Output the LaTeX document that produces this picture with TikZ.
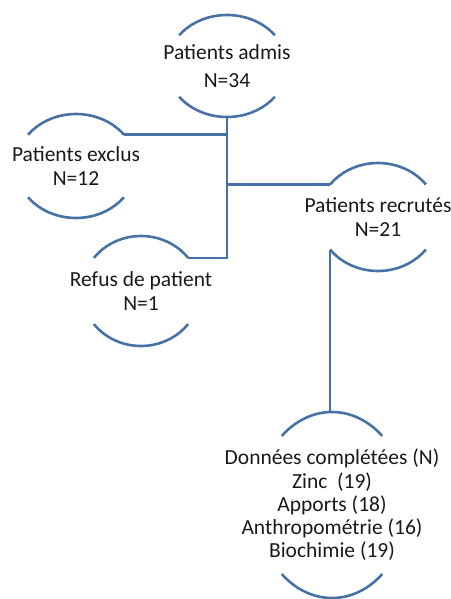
\documentclass[tikz,border=0pt]{standalone}
\usepackage{fontspec}
\setmainfont{Carlito}
\definecolor{arcblue}{RGB}{70,114,166}

% two arcs of an ellipse round a text node, with named ends
\newcommand{\capends}[4]{%
  \coordinate (#1-tr) at ([shift={(#4:#2 and #3)}]#1.center);
  \coordinate (#1-tl) at ([shift={(180-#4:#2 and #3)}]#1.center);
  \coordinate (#1-bl) at ([shift={(180+#4:#2 and #3)}]#1.center);
  \coordinate (#1-br) at ([shift={(-#4:#2 and #3)}]#1.center);
  \coordinate (#1-top) at ([yshift=#3]#1.center);
  \coordinate (#1-bot) at ([yshift=-#3]#1.center);
  \draw[arcline] (#1-tr) arc[start angle=#4, end angle=180-#4, x radius=#2, y radius=#3];
  \draw[arcline] (#1-bl) arc[start angle=180+#4, end angle=360-#4, x radius=#2, y radius=#3];
}

\begin{document}
\begin{tikzpicture}[x=1pt,y=-1pt,
    arcline/.style={draw=arcblue, line width=2.6pt},
    txt/.style={align=center, inner sep=0pt, text=black!90, font=\fontsize{21.5}{24.5}\selectfont}]

\useasboundingbox (0,0) rectangle (450,599);

\node[txt] (admis) at (227,66) {Patients admis\\[3pt]N=34};
\node[txt] (exclus) at (76,166) {Patients exclus\\N=12};
\node[txt] (refus) at (141,291) {Refus de patient\\N=1};
\node[txt] (recrutes) at (378,217) {Patients recrutés\\N=21};
\node[txt, font=\fontsize{21.5}{23.2}\selectfont] (donnees) at (332,505)
  {Données complétées (N)\\Zinc~ (19)\\Apports (18)\\Anthropométrie (16)\\Biochimie (19)};

\capends{admis}{60pt}{51pt}{37}
\capends{exclus}{60pt}{52pt}{37}
\capends{refus}{59pt}{55pt}{37}
\capends{recrutes}{60pt}{54pt}{37}
\capends{donnees}{75pt}{93pt}{48}

\draw[arcline] (admis-bot) -- (admis-bot |- refus-tr) -- (refus-tr);
\draw[arcline] (exclus-tr) -- (exclus-tr -| admis-bot);
\draw[arcline] (admis-bot |- recrutes-tl) -- (recrutes-tl);
\draw[arcline] (recrutes-bl) -- (recrutes-bl |- donnees-top);

\end{tikzpicture}
\end{document}
